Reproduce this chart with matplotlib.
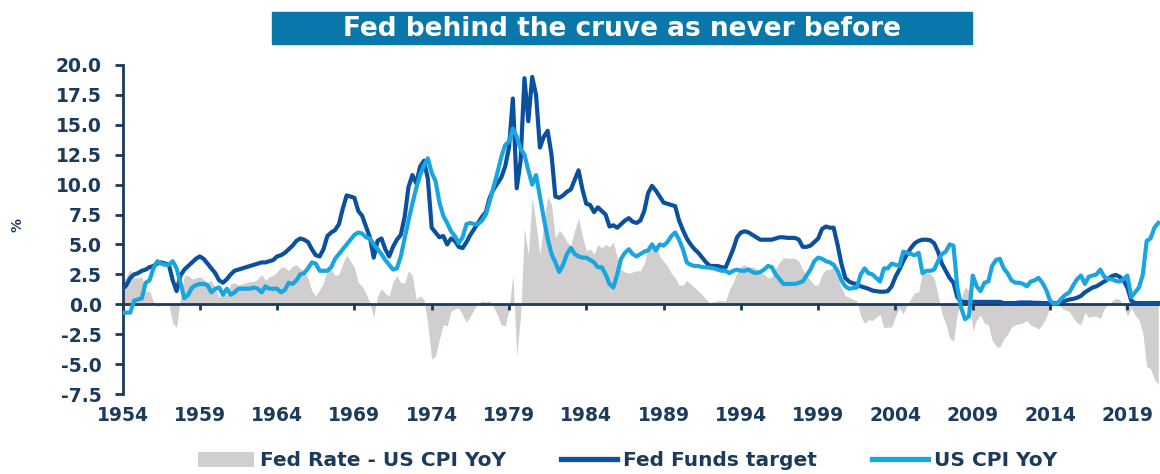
import numpy as np
import matplotlib.pyplot as plt
from matplotlib.patches import Patch, Rectangle
from matplotlib.lines import Line2D

# quarterly points, 1954Q1 .. 2021Q1
quarters = np.arange(1954, 2021.01, 0.25)

fed_funds = [
    1.25, 1.6, 2.2, 2.5,   2.6, 2.8, 2.9, 3.1,   3.2, 3.4, 3.5, 3.4,   3.3, 2.0, 1.1, 2.4,   # 1954-57
    2.9, 3.2, 3.5, 3.8,    4.0, 3.8, 3.4, 3.0,   2.6, 2.0, 1.8, 2.1,   2.5, 2.8, 2.9, 3.0,   # 1958-61
    3.1, 3.2, 3.3, 3.4,    3.5, 3.5, 3.6, 3.7,   4.0, 4.1, 4.3, 4.6,   4.9, 5.3, 5.5, 5.4,   # 1962-65
    5.2, 4.6, 4.1, 4.0,    4.6, 5.7, 6.0, 6.2,   6.7, 8.0, 9.1, 9.0,   8.9, 7.8, 7.4, 6.5,   # 1966-69
    5.6, 3.9, 5.3, 5.5,    4.6, 4.0, 4.8, 5.4,   5.8, 7.3, 9.8, 10.8,  10.1, 11.5, 12.0, 10.5,  # 1970-73
    6.4, 6.0, 5.6, 5.7,    5.0, 5.5, 5.3, 4.8,   4.7, 5.2, 5.8, 6.3,   6.8, 7.3, 7.7, 8.9,   # 1974-77
    9.6, 10.1, 10.6, 11.5, 13.1, 17.2, 9.7, 12.0, 18.9, 15.3, 19.0, 17.5, 13.1, 14.0, 14.5, 12.5,  # 1978-81
    9.0, 8.9, 9.1, 9.4,    9.6, 10.4, 11.2, 9.6, 8.4, 8.3, 7.7, 8.1,   7.8, 7.5, 6.5, 6.6,   # 1982-85
    6.4, 6.7, 7.0, 7.2,    6.9, 6.8, 7.0, 7.8,   9.3, 9.9, 9.5, 9.0,   8.5, 8.4, 8.3, 8.2,   # 1986-89
    7.0, 6.2, 5.5, 5.0,    4.6, 4.3, 3.9, 3.5,   3.2, 3.2, 3.2, 3.1,   3.05, 3.8, 4.6, 5.6,  # 1990-93
    6.0, 6.1, 6.0, 5.8,    5.6, 5.4, 5.4, 5.4,   5.4, 5.5, 5.6, 5.6,   5.55, 5.55, 5.55, 5.4,  # 1994-97
    4.8, 4.8, 4.9, 5.2,    5.5, 6.3, 6.5, 6.4,   6.4, 5.0, 3.4, 2.2,   1.9, 1.75, 1.7, 1.5,  # 1998-01
    1.4, 1.3, 1.15, 1.1,   1.05, 1.05, 1.1, 1.5, 2.3, 2.9, 3.6, 4.2,   4.7, 5.1, 5.3, 5.4,   # 2002-05
    5.4, 5.35, 5.1, 4.4,   3.4, 2.8, 2.2, 1.8,   0.6, 0.2, 0.2, 0.15,  0.2, 0.2, 0.2, 0.2,   # 2006-09
    0.2, 0.2, 0.2, 0.2,    0.1, 0.1, 0.1, 0.1,   0.15, 0.15, 0.15, 0.15, 0.12, 0.12, 0.1, 0.1,  # 2010-13
    0.1, 0.1, 0.12, 0.2,   0.3, 0.4, 0.45, 0.55, 0.7, 1.0, 1.2, 1.4,   1.5, 1.7, 1.9, 2.1,   # 2014-17
    2.35, 2.45, 2.3, 2.0,  1.4, 0.3, 0.1, 0.1,   0.1, 0.1, 0.1, 0.1,   0.1,                  # 2018-21
]

us_cpi = [
    -0.7, -0.7, -0.7, 0.3, 0.4, 0.5, 1.8, 2.0,   3.0, 3.6, 3.4, 3.3,   3.3, 3.6, 3.0, 1.8,   # 1954-57
    0.5, 0.8, 1.4, 1.6,    1.7, 1.7, 1.6, 1.0,   1.3, 1.4, 0.8, 1.3,   0.8, 1.0, 1.3, 1.3,   # 1958-61
    1.3, 1.3, 1.4, 1.3,    1.0, 1.5, 1.3, 1.3,   1.3, 1.0, 1.2, 1.8,   1.7, 2.0, 2.5, 2.6,   # 1962-65
    3.0, 3.5, 3.4, 2.8,    2.8, 2.8, 3.1, 3.8,   4.2, 4.6, 5.0, 5.4,   5.8, 6.0, 5.9, 5.6,   # 1966-69
    5.5, 5.0, 4.6, 4.2,    3.7, 3.3, 2.9, 3.0,   4.0, 5.5, 7.0, 8.4,   9.7, 10.8, 11.6, 12.2,  # 1970-73
    11.0, 10.3, 8.5, 7.4,  6.8, 6.1, 5.7, 5.1,   5.6, 6.7, 6.8, 6.7,   6.7, 7.0, 7.5, 8.6,   # 1974-77
    9.8, 11.0, 12.3, 13.3, 13.6, 14.7, 14.0, 13.0, 12.5, 11.2, 10.0, 10.8, 9.0, 7.2, 5.5, 4.2,  # 1978-81
    3.5, 2.7, 3.3, 4.2,    4.7, 4.2, 4.0, 3.9,   3.9, 3.7, 3.5, 3.1,   3.1, 2.5, 1.7, 1.4,   # 1982-85
    2.5, 3.8, 4.3, 4.6,    4.2, 4.0, 4.2, 4.4,   4.5, 5.0, 4.5, 5.0,   4.9, 5.2, 5.7, 6.0,   # 1986-89
    5.4, 4.6, 3.5, 3.3,    3.2, 3.2, 3.1, 3.1,   3.05, 3.0, 2.9, 2.8,  2.8, 2.6, 2.8, 2.9,   # 1990-93
    2.8, 2.8, 2.9, 2.7,    2.6, 2.7, 2.9, 3.2,   3.1, 2.5, 2.1, 1.7,   1.7, 1.7, 1.7, 1.8,   # 1994-97
    1.9, 2.4, 2.9, 3.6,    3.9, 3.8, 3.6, 3.5,   3.3, 2.8, 2.0, 1.5,   1.3, 1.35, 1.4, 2.5,  # 1998-01
    3.0, 2.6, 2.5, 2.2,    1.9, 3.0, 3.0, 3.4,   3.3, 3.2, 4.4, 4.3,   4.2, 4.1, 4.3, 2.6,   # 2002-05
    2.8, 2.8, 2.9, 3.6,    4.2, 4.4, 5.0, 4.9,   1.4, -0.3, -1.25, -1.0, 2.4, 1.5, 1.1, 1.8,  # 2006-09
    1.9, 3.2, 3.7, 3.8,    3.0, 2.6, 2.0, 1.8,   1.8, 1.7, 1.5, 1.9,   2.0, 2.2, 1.8, 1.2,   # 2010-13
    0.3, 0.05, 0.1, 0.5,   0.8, 1.0, 1.6, 2.1,   2.4, 1.7, 2.3, 2.4,   2.5, 2.9, 2.3, 2.1,   # 2014-17
    2.1, 1.95, 1.9, 2.1,   2.4, 0.6, 1.0, 1.4,   2.5, 5.3, 5.5, 6.4,   6.8,                  # 2018-21
]

tick_years = [1954, 1959, 1964, 1969, 1974, 1979, 1984, 1989, 1994, 1999, 2004, 2009, 2014, 2019]
y_ticks = [-7.5, -5.0, -2.5, 0.0, 2.5, 5.0, 7.5, 10.0, 12.5, 15.0, 17.5, 20.0]

title = "Fed behind the cruve as never before"
labels = ["Fed Rate - US CPI YoY", "Fed Funds target", "US CPI YoY"]

navy = '#1b3a5c'
dark_blue = '#0b4f9f'
light_blue = '#19a6e0'
grey = '#d0cecf'

plt.rcParams['font.family'] = 'DejaVu Sans'
plt.rcParams['font.weight'] = 'bold'

fed = np.array(fed_funds)
cpi = np.array(us_cpi)
gap = fed - cpi

fig = plt.figure(figsize=(11.6, 4.74), dpi=100)
ax = fig.add_axes([122.5 / 1160, 1 - 394 / 474, 1 - 122.5 / 1160, 329 / 474])

ax.fill_between(quarters, gap, 0, color=grey, lw=0, zorder=1)
ax.plot(quarters, fed, color=dark_blue, lw=3.0, zorder=3, solid_joinstyle='round')
ax.plot(quarters, cpi, color=light_blue, lw=3.0, zorder=4, solid_joinstyle='round')

ax.set_xlim(1954, 2021.11)
ax.set_ylim(-7.5, 20)

for s in ['top', 'right']:
    ax.spines[s].set_visible(False)
ax.spines['left'].set_color(navy)
ax.spines['left'].set_linewidth(2)
ax.spines['bottom'].set_position(('data', 0))
ax.spines['bottom'].set_color(navy)
ax.spines['bottom'].set_linewidth(2)
ax.spines['bottom'].set_zorder(2.5)

ax.set_xticks(tick_years)
ax.set_xticklabels([str(y) for y in tick_years])
ax.set_yticks(y_ticks)
ax.set_yticklabels([f"{v:.1f}" for v in y_ticks])
ax.tick_params(axis='x', direction='out', length=4, width=2, color=navy,
               labelcolor=navy, labelsize=13.5, pad=69)
ax.tick_params(axis='y', direction='out', length=6, width=2, color=navy,
               labelcolor=navy, labelsize=13.5, pad=9)
for t in ax.get_xticklabels() + ax.get_yticklabels():
    t.set_fontweight('bold')

fig.text(18 / 1160, 1 - 225 / 474, '%', rotation=90, ha='center', va='center',
         color=navy, fontsize=10, fontweight='bold')

# title box
fig.patches.append(Rectangle((272 / 1160, 1 - 44 / 474), 700 / 1160, 32 / 474,
                             transform=fig.transFigure, color='#0a77aa', zorder=0))
fig.text(622 / 1160, 1 - 28.5 / 474, title, ha='center', va='center',
         color='white', fontsize=19, fontweight='bold')

handles = [Patch(facecolor=grey, edgecolor='none'),
           Line2D([], [], color=dark_blue, lw=3.8),
           Line2D([], [], color=light_blue, lw=3.8)]
leg = fig.legend(handles, labels, loc='center', bbox_to_anchor=(0.541, 1 - 461 / 474),
                 ncol=3, frameon=False, fontsize=14.5, handlelength=2.8,
                 handletextpad=0.3, columnspacing=2.7, borderpad=0.2)
for t in leg.get_texts():
    t.set_color(navy)
    t.set_fontweight('bold')

fig.savefig('out.png', dpi=100)
